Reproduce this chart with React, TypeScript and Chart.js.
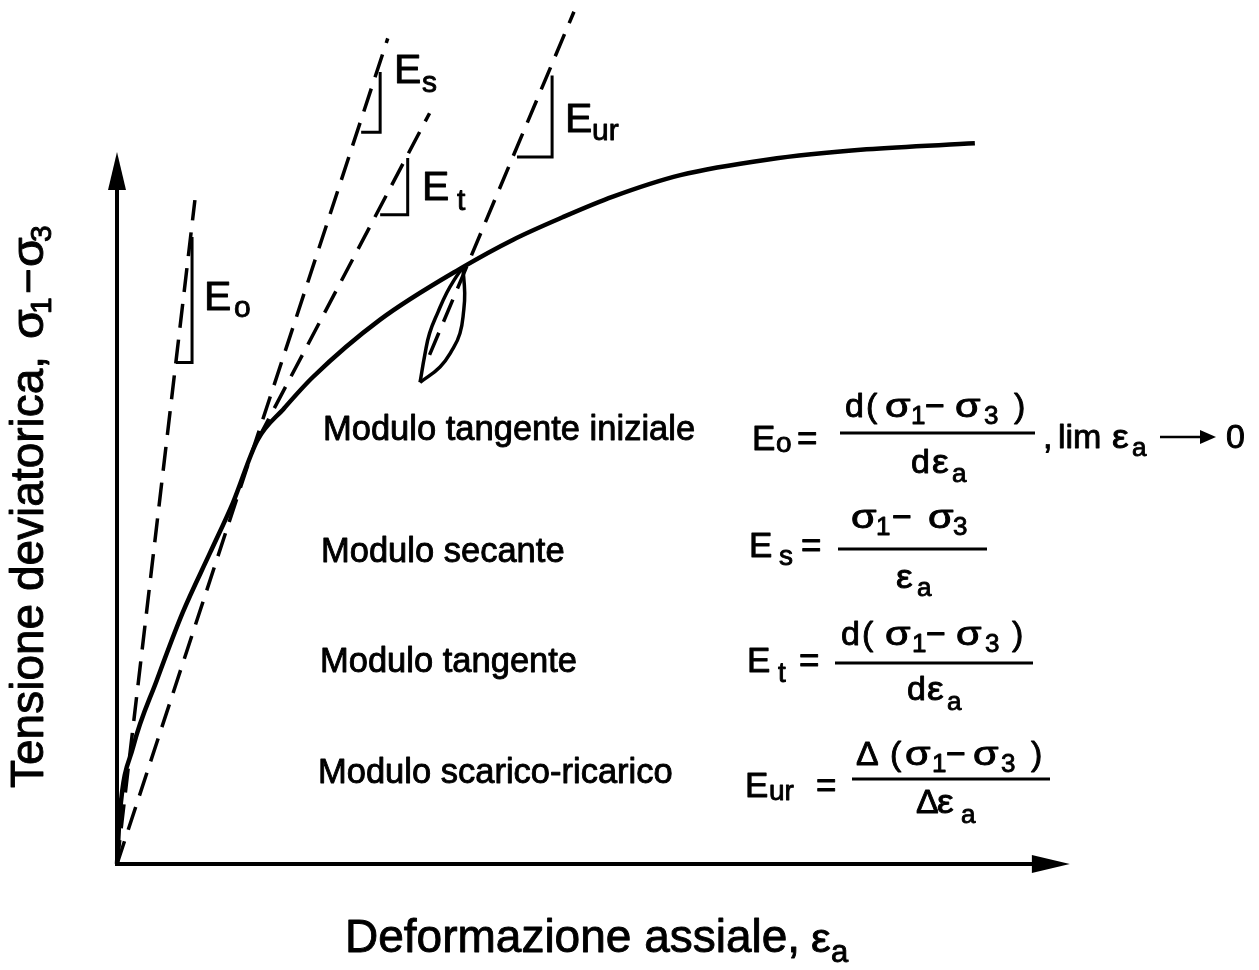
import React, { useEffect, useRef } from "react";
import { Chart, registerables } from "chart.js";

Chart.register(...registerables);

// Loading curve: axial strain vs deviator stress (arbitrary units)
const strain = [0, 0.03, 0.17, 0.42, 0.69, 0.98, 1.22, 1.48, 1.76, 2.06, 2.77, 3.64, 4.17, 4.69, 5.22, 5.93, 6.84, 7.89, 9.03];
const deviatorStress = [0, 0.59, 1.36, 2.14, 2.92, 3.62, 4.2, 4.93, 5.3, 5.66, 6.33, 6.94, 7.26, 7.52, 7.76, 8.01, 8.19, 8.31, 8.38];

// Unload / reload loop
const unloadStrain = [3.64, 3.66, 3.65, 3.61, 3.53, 3.4, 3.19];
const unloadStress = [6.94, 6.64, 6.44, 6.17, 5.98, 5.78, 5.6];
const reloadStrain = [3.19, 3.24, 3.29, 3.38, 3.47, 3.56, 3.64];
const reloadStress = [5.6, 5.92, 6.17, 6.42, 6.64, 6.81, 6.94];

// Modulus construction lines: [strain, stress] end points
const initialTangentLine = [[0, 0], [0.82, 7.72]];
const secantLine = [[0, 0], [2.85, 9.6]];
const tangentLine = [[1.48, 4.93], [3.29, 8.73]];
const unloadReloadLine = [[3.29, 5.92], [4.81, 9.91]];

// Slope triangles
const initialTangentTri = [[0.62, 5.83], [0.79, 5.83], [0.79, 7.29]];
const secantTri = [[2.57, 8.51], [2.77, 8.51], [2.77, 9.21]];
const tangentTri = [[2.77, 7.55], [3.06, 7.55], [3.06, 8.21]];
const unloadReloadTri = [[4.21, 8.22], [4.58, 8.22], [4.58, 9.17]];

// Axis extents
const xAxisEnd = 10.03;
const yAxisEnd = 8.28;

const FONT = '"Liberation Sans", Arial, Helvetica, sans-serif';

const toPts = (xs: number[], ys: number[]) => xs.map((x, i) => ({ x, y: ys[i] }));
const pairPts = (p: number[][]) => p.map(([x, y]) => ({ x, y }));

// [text, x, baseline, font size, horizontal scale]
type Run = [string, number, number, number, number?];

function drawRuns(ctx: CanvasRenderingContext2D, runs: Run[]) {
  for (const [t, x, y, s, sx] of runs) {
    ctx.font = `${s}px ${FONT}`;
    ctx.save();
    ctx.translate(x, y);
    ctx.scale(sx ?? 1, 1);
    ctx.lineWidth = 0.9;
    ctx.lineJoin = "round";
    ctx.fillText(t, 0, 0);
    ctx.strokeText(t, 0, 0);
    ctx.restore();
  }
}

function bar(ctx: CanvasRenderingContext2D, x0: number, x1: number, y: number) {
  ctx.beginPath();
  ctx.moveTo(x0, y);
  ctx.lineTo(x1, y);
  ctx.lineWidth = 3;
  ctx.stroke();
}

const F = 34;
const S = 26;
const W = 1.22; // widening for sigma glyphs

const diagramPlugin = {
  id: "diagram",
  afterDatasetsDraw(chart: any) {
    const ctx: CanvasRenderingContext2D = chart.ctx;
    const xs = chart.scales.x;
    const ys = chart.scales.y;
    const ox = xs.getPixelForValue(0);
    const oy = ys.getPixelForValue(0);
    const xe = xs.getPixelForValue(xAxisEnd);
    const ye = ys.getPixelForValue(yAxisEnd);

    ctx.save();
    ctx.strokeStyle = "#000";
    ctx.fillStyle = "#000";
    ctx.lineCap = "butt";

    // axes
    ctx.lineWidth = 4;
    ctx.beginPath();
    ctx.moveTo(ox, oy);
    ctx.lineTo(ox, ye + 30);
    ctx.moveTo(ox - 2, oy);
    ctx.lineTo(xe - 30, oy);
    ctx.stroke();
    // arrowheads
    ctx.beginPath();
    ctx.moveTo(ox, ye);
    ctx.lineTo(ox - 9, ye + 38);
    ctx.lineTo(ox + 9, ye + 38);
    ctx.closePath();
    ctx.fill();
    ctx.beginPath();
    ctx.moveTo(xe, oy);
    ctx.lineTo(xe - 38, oy - 9);
    ctx.lineTo(xe - 38, oy + 9);
    ctx.closePath();
    ctx.fill();

    ctx.textBaseline = "alphabetic";
    ctx.textAlign = "left";

    // slope labels
    drawRuns(ctx, [
      ["E", 204, 310, 41], ["o", 234, 317, 30],
      ["E", 394, 83, 41], ["s", 422, 92, 30],
      ["E", 422, 200, 41], ["t", 457, 210, 30],
      ["E", 565, 132, 41], ["ur", 592, 140, 30],
    ]);

    // definitions
    drawRuns(ctx, [
      ["Modulo tangente iniziale", 323, 440, 34.5],
      ["Modulo secante", 321, 562, 34.5],
      ["Modulo tangente", 320, 672, 34.5],
      ["Modulo scarico-ricarico", 318, 783, 34.5],
    ]);

    // E_o
    drawRuns(ctx, [
      ["E", 752, 450, 35], ["o", 776, 452, 28], ["=", 797, 450, 35],
      ["d", 845, 417, F], ["(", 866, 417, F], ["σ", 885, 417, F, W], ["1", 911, 424, S],
      ["−", 925, 417, F], ["σ", 955, 417, F, W], ["3", 984, 424, S], [")", 1014, 417, F],
      ["d", 911, 473, F], ["ε", 932, 473, F, 1.1], ["a", 952, 482, S],
      [",", 1043, 448, F], ["lim", 1058, 448, F], ["ε", 1112, 448, F, 1.1], ["a", 1132, 456, S],
      ["0", 1226, 448, F],
    ]);
    bar(ctx, 840, 1035, 433);
    // limit arrow
    ctx.lineWidth = 2.5;
    ctx.beginPath();
    ctx.moveTo(1160, 437);
    ctx.lineTo(1205, 437);
    ctx.stroke();
    ctx.beginPath();
    ctx.moveTo(1216, 437);
    ctx.lineTo(1200, 430);
    ctx.lineTo(1200, 444);
    ctx.closePath();
    ctx.fill();

    // E_s
    drawRuns(ctx, [
      ["E", 749, 557, 35], ["s", 779, 565, 28], ["=", 801, 557, 35],
      ["σ", 851, 528, F, W], ["1", 876, 535, S], ["−", 892, 528, F], ["σ", 928, 528, F, W], ["3", 953, 535, S],
      ["ε", 896, 588, F, 1.1], ["a", 917, 596, S],
    ]);
    bar(ctx, 838, 987, 549);

    // E_t
    drawRuns(ctx, [
      ["E", 747, 672, 35], ["t", 778, 682, 28], ["=", 799, 672, 35],
      ["d", 841, 645, F], ["(", 862, 645, F], ["σ", 885, 645, F, W], ["1", 912, 652, S],
      ["−", 926, 645, F], ["σ", 956, 645, F, W], ["3", 985, 652, S], [")", 1012, 645, F],
      ["d", 907, 700, F], ["ε", 927, 700, F, 1.1], ["a", 947, 710, S],
    ]);
    bar(ctx, 835, 1033, 663);

    // E_ur
    drawRuns(ctx, [
      ["E", 745, 797, 35], ["ur", 769, 800, 28], ["=", 816, 797, 35],
      ["Δ", 856, 765, F], ["(", 890, 765, F], ["σ", 905, 765, F, W], ["1", 932, 772, S],
      ["−", 946, 765, F], ["σ", 973, 765, F, W], ["3", 1001, 772, S], [")", 1031, 765, F],
      ["Δ", 916, 813, F], ["ε", 937, 813, F, 1.1], ["a", 961, 823, S],
    ]);
    bar(ctx, 852, 1050, 779);

    // x-axis title
    drawRuns(ctx, [
      ["Deformazione assiale,", 345, 952, 46],
      ["ε", 811, 952, 40, 1.1], ["a", 831, 962, 31],
    ]);

    // y-axis title (rotated)
    ctx.save();
    ctx.translate(43, 788);
    ctx.rotate(-Math.PI / 2);
    drawRuns(ctx, [
      ["Tensione deviatorica,", 0, 0, 46],
      ["σ", 449, 0, 44, 1.1], ["1", 474, 8, 30],
      ["−", 494, 0, 44],
      ["σ", 521, 0, 44, 1.1], ["3", 546, 8, 30],
    ]);
    ctx.restore();

    ctx.restore();
  },
};

export default function App() {
  const canvasRef = useRef<HTMLCanvasElement | null>(null);

  useEffect(() => {
    const canvas = canvasRef.current;
    if (!canvas) return;

    const solid = (data: any[], width: number, extra: any = {}) => ({
      data,
      showLine: true,
      borderColor: "#000",
      backgroundColor: "#000",
      borderWidth: width,
      pointRadius: 0,
      fill: false,
      clip: false,
      ...extra,
    });
    const dashed = (data: any[]) => solid(data, 3.5, { borderDash: [24, 12] });

    const chart = new Chart(canvas, {
      type: "scatter",
      data: {
        datasets: [
          solid(toPts(strain, deviatorStress), 4.5, { cubicInterpolationMode: "monotone" }),
          solid(toPts(unloadStrain, unloadStress), 3.5, { tension: 0.45 }),
          solid(toPts(reloadStrain, reloadStress), 3.5, { tension: 0.45 }),
          dashed(pairPts(initialTangentLine)),
          dashed(pairPts(secantLine)),
          dashed(pairPts(tangentLine)),
          dashed(pairPts(unloadReloadLine)),
          solid(pairPts(initialTangentTri), 3),
          solid(pairPts(secantTri), 3),
          solid(pairPts(tangentTri), 3),
          solid(pairPts(unloadReloadTri), 3),
        ] as any,
      },
      options: {
        animation: false,
        responsive: false,
        devicePixelRatio: 1,
        events: [],
        layout: { padding: { left: 117, right: 192, top: 4, bottom: 106 } },
        scales: {
          x: { type: "linear", min: 0, max: 10, display: false },
          y: { type: "linear", min: 0, max: 10, display: false },
        },
        plugins: { legend: { display: false }, tooltip: { enabled: false } },
      },
      plugins: [diagramPlugin],
    });

    return () => chart.destroy();
  }, []);

  return (
    <div style={{ position: "fixed", left: 0, top: 0, width: 1259, height: 970, background: "#fff" }}>
      <canvas ref={canvasRef} width={1259} height={970} style={{ display: "block" }} />
    </div>
  );
}
